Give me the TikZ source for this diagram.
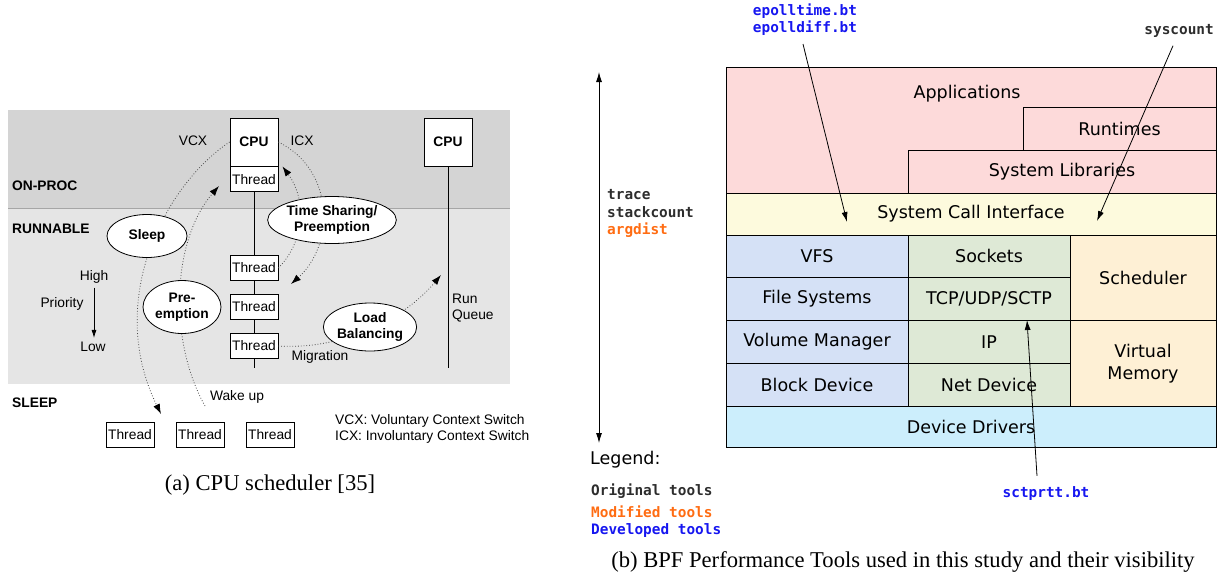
\documentclass[tikz,border=0pt]{standalone}
\usepackage{fontspec}
\setmainfont{Liberation Serif}
\newfontfamily\schedfont{Liberation Sans}
\newfontfamily\stackfont{DejaVu Sans}
\newfontfamily\toolfont{DejaVu Sans Mono}
\usetikzlibrary{shapes.geometric,arrows.meta}

\definecolor{onproc}{RGB}{212,212,212}
\definecolor{runnable}{RGB}{229,229,229}
\definecolor{apppink}{RGB}{253,218,218}
\definecolor{sysyellow}{RGB}{253,250,221}
\definecolor{fsblue}{RGB}{213,225,246}
\definecolor{netgreen}{RGB}{222,233,214}
\definecolor{kernorange}{RGB}{254,240,213}
\definecolor{drvcyan}{RGB}{204,238,252}
\definecolor{toolgray}{RGB}{45,45,45}
\definecolor{toolorange}{RGB}{255,108,18}
\definecolor{toolblue}{RGB}{22,22,240}

\newcommand\schedtext{\schedfont\fontsize{13.8}{16.5}\selectfont}
\newcommand\stacktext{\stackfont\fontsize{17.5}{22}\selectfont}
\newcommand\tooltext{\toolfont\bfseries\fontsize{14.4}{17}\selectfont}

\tikzset{
  thread/.style={draw, fill=white, line width=0.8pt, minimum width=48pt, minimum height=25pt, inner sep=0pt, font=\schedtext},
  cpu/.style={thread, minimum height=48pt, font=\schedtext\bfseries},
  bubble/.style={ellipse, draw, fill=white, line width=0.8pt, inner sep=0pt, align=center, font=\schedtext\bfseries},
  tag/.style={inner sep=0pt, font=\schedtext},
  state/.style={inner sep=0pt, anchor=west, font=\schedtext\bfseries},
  flow/.style={dotted, line width=0.8pt, black!70, -{Latex[length=10pt,width=7pt,black]}},
  layer/.style={draw, line width=0.9pt, inner sep=0pt, font=\stacktext},
  tool/.style={inner sep=0pt, font=\tooltext},
  probe/.style={line width=0.8pt, -{Latex[length=10pt,width=6pt]}}
}

\begin{document}
\begin{tikzpicture}[x=1pt, y=-1pt]
\useasboundingbox (0,0) rectangle (1221,574);

% scheduler states
\fill[onproc] (8,110) rectangle (510,208);
\fill[runnable] (8,208) rectangle (510,384);
\draw[black!35, line width=0.6pt] (8,208) -- (510,208);

\node[state] (onprocst) at (12,186) {ON-PROC};
\node[state] (runst) at (12,229) {RUNNABLE};
\node[state] (sleepst) at (12,403) {SLEEP};

% cpus and run queues
\node[cpu] (cpuA) at (254,142) {CPU};
\node[thread, anchor=north] (runA) at (cpuA.south) {Thread};
\node[cpu] (cpuB) at (448,142) {CPU};
\coordinate (qendA) at (254,368);
\coordinate (qendB) at (448,368);
\draw[line width=0.9pt] (runA.south) -- (qendA);
\draw[line width=0.9pt] (cpuB.south) -- (qendB);
\node[thread] (qA1) at (254,268) {Thread};
\node[thread] (qA2) at (254,307) {Thread};
\node[thread] (qA3) at (254,346) {Thread};

\node[tag] (vcx) at (193,141) {VCX};
\node[tag] (icx) at (302,141) {ICX};
\node[tag, anchor=west, align=left] (runq) at (452,308) {Run\\Queue};
\node[tag] (migr) at (320,357) {Migration};
\node[tag] (wake) at (237,397) {Wake up};

% priority
\node[tag] (high) at (94,277) {High};
\node[tag] (prio) at (62,304) {Priority};
\node[tag] (low) at (93,347) {Low};
\draw[line width=0.8pt, -{Latex[length=8pt,width=5pt]}] ([yshift=-4pt]high.south) -- ([yshift=4pt]high.south |- low.north);

% sleeping threads
\node[thread] (slA) at (130,435) {Thread};
\node[thread] (slB) at (200,435) {Thread};
\node[thread] (slC) at (270,435) {Thread};
\node[tag, anchor=west, align=left] (cxkey) at (335,429) {VCX: Voluntary Context Switch\\ICX: Involuntary Context Switch};

% transitions
\coordinate (vcxend) at (161,414);
\coordinate (wakestart) at (205,406);
\coordinate (wakeend) at (219,186);
\coordinate (icxend) at (291,284);
\coordinate (migrend) at (441,275);
\draw[flow] (cpuA.west) .. controls (165,185) and (105,300) .. (vcxend);
\draw[flow] (wakestart) .. controls (168,340) and (172,240) .. (wakeend);
\draw[flow] (cpuA.east) .. controls (335,170) and (335,245) .. (icxend);
\draw[flow] (qA1.east) .. controls (306,240) and (306,198) .. ([xshift=4pt]runA.north east);
\draw[flow] (qA3.east) .. controls (345,350) and (405,318) .. (migrend);

\node[bubble, minimum width=80pt, minimum height=43pt] (sleepop) at (147,236) {Sleep};
\node[bubble, minimum width=126pt, minimum height=47pt] (tshare) at (332,220) {Time Sharing/\\Preemption};
\node[bubble, minimum width=78pt, minimum height=53pt] (preempt) at (182,307) {Pre-\\emption};
\node[bubble, minimum width=89pt, minimum height=48pt] (loadbal) at (370,327) {Load\\Balancing};

\node[font=\fontsize{22.6}{26}\selectfont] (capA) at (270,485) {(a) CPU scheduler [35]};

% software stack
\coordinate (stacktop) at (599,72);
\coordinate (stackbot) at (599,443);
\draw[line width=0.9pt, {Latex[length=10pt,width=6pt]}-{Latex[length=10pt,width=6pt]}] (stacktop) -- (stackbot);
\node[tool, text=toolgray, anchor=west] (trace) at (607,195) {trace};
\node[tool, text=toolgray, anchor=west] (stackc) at (607,212) {stackcount};
\node[tool, text=toolorange, anchor=west] (argd) at (607,230) {argdist};

\node[layer, fill=apppink, minimum width=490pt, minimum height=126pt] (apps) at (971,130) {};
\node[inner sep=0pt, font=\stacktext] (appstxt) at (967,94) {Applications};
\node[layer, fill=apppink, minimum width=193pt, minimum height=43pt] (runtimes) at (1119.5,128.5) {Runtimes};
\node[layer, fill=apppink, minimum width=308pt, minimum height=43pt] (syslibs) at (1062,171.5) {System Libraries};
\node[layer, fill=sysyellow, minimum width=490pt, minimum height=42pt] (syscall) at (971,214) {System Call Interface};

\node[layer, fill=fsblue, minimum width=182pt, minimum height=42.75pt] (vfs) at (817,256.4) {VFS};
\node[layer, fill=fsblue, minimum width=182pt, minimum height=42.75pt] (fsys) at (817,299.1) {File Systems};
\node[layer, fill=fsblue, minimum width=182pt, minimum height=42.75pt] (volmgr) at (817,341.9) {Volume Manager};
\node[layer, fill=fsblue, minimum width=182pt, minimum height=42.75pt] (blkdev) at (817,384.6) {Block Device};

\node[layer, fill=netgreen, minimum width=162pt, minimum height=42.75pt] (sockets) at (989,256.4) {Sockets};
\node[layer, fill=netgreen, minimum width=162pt, minimum height=42.75pt] (tcp) at (989,299.1) {TCP/UDP/SCTP};
\node[layer, fill=netgreen, minimum width=162pt, minimum height=42.75pt] (ip) at (989,341.9) {IP};
\node[layer, fill=netgreen, minimum width=162pt, minimum height=42.75pt] (netdev) at (989,384.6) {Net Device};

\node[layer, fill=kernorange, minimum width=146pt, minimum height=85.5pt] (sched) at (1143,277.8) {Scheduler};
\node[layer, fill=kernorange, minimum width=146pt, minimum height=85.5pt, align=center] (vmem) at (1143,363.3) {Virtual\\Memory};
\node[layer, fill=drvcyan, minimum width=490pt, minimum height=41pt] (drivers) at (971,426.5) {Device Drivers};

% tools probing the layers
\node[tool, text=toolblue, align=left] (epoll) at (805,20) {epolltime.bt\\epolldiff.bt};
\node[tool, text=toolgray, anchor=east] (syscount) at (1214,31) {syscount};
\node[tool, text=toolblue] (sctp) at (1046,494) {sctprtt.bt};
\coordinate (epollhit) at (847,222);
\coordinate (syshit) at (1097,221);
\coordinate (tcphit) at (1027,320);
\draw[probe] ([shift={(-2,8)}]epoll.south) -- (epollhit);
\draw[probe] ([shift={(-41,8)}]syscount.south east) -- (syshit);
\draw[probe] ([shift={(-9,-11)}]sctp.north) -- (tcphit);

% legend
\node[inner sep=0pt, anchor=west, font=\stacktext] (legend) at (590,460) {Legend:};
\node[tool, text=toolgray, anchor=west] (origt) at (591,491) {Original tools};
\node[tool, text=toolorange, anchor=west] (modt) at (591,512) {Modified tools};
\node[tool, text=toolblue, anchor=west] (devt) at (591,531) {Developed tools};

\node[font=\fontsize{22.6}{26}\selectfont] (capB) at (903,562) {(b) BPF Performance Tools used in this study and their visibility};
\end{tikzpicture}
\end{document}
